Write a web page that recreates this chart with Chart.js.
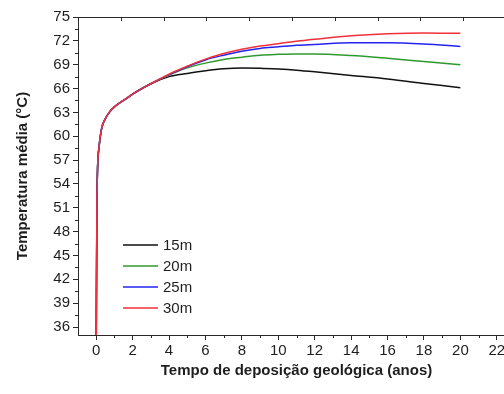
<!DOCTYPE html>
<html>
<head>
<meta charset="utf-8">
<script src="https://cdn.jsdelivr.net/npm/chart.js@4"></script>
<style>
  html, body { margin: 0; padding: 0; background: #fff; overflow: hidden; }
  #wrap { width: 504px; height: 394px; overflow: hidden; }
</style>
</head>
<body>
<div id="wrap"><canvas id="chart" width="530" height="394"></canvas></div>
<script>
// time (anos)
const times = [0, 0.04, 0.15, 0.3, 0.5, 0.75, 1, 1.5, 2, 3, 4, 5, 6, 7, 8, 9, 10, 11, 12, 14, 16, 18, 20];
// temperatura media (°C) per depth
const temp15 = [33, 52, 58.5, 61, 62.2, 63.1, 63.7, 64.5, 65.3, 66.6, 67.5, 67.9, 68.25, 68.5, 68.6, 68.56, 68.45, 68.3, 68.1, 67.65, 67.2, 66.65, 66.1];
const temp20 = [33, 52, 58.5, 61, 62.2, 63.1, 63.7, 64.5, 65.3, 66.6, 67.7, 68.6, 69.2, 69.65, 69.95, 70.2, 70.3, 70.35, 70.35, 70.15, 69.8, 69.4, 69.0];
const temp25 = [33, 52, 58.5, 61, 62.2, 63.1, 63.7, 64.5, 65.3, 66.6, 67.75, 68.75, 69.6, 70.2, 70.7, 71.05, 71.25, 71.45, 71.55, 71.75, 71.75, 71.6, 71.3];
const temp30 = [33, 52, 58.5, 61, 62.2, 63.1, 63.7, 64.5, 65.3, 66.6, 67.8, 68.8, 69.7, 70.4, 70.95, 71.35, 71.65, 71.95, 72.2, 72.65, 72.9, 73.0, 72.95];

const seriesLabels = ['15m', '20m', '25m', '30m'];
const seriesColors = ['#111111', '#2e9a2e', '#2323f0', '#f0303a'];

const xTicks = [0, 2, 4, 6, 8, 10, 12, 14, 16, 18, 20, 22];
const xMinorTicks = [1, 3, 5, 7, 9, 11, 13, 15, 17, 19, 21, 23];
const yTicks = [36, 39, 42, 45, 48, 51, 54, 57, 60, 63, 66, 69, 72, 75];
const yMinorTicks = [37.5, 40.5, 43.5, 46.5, 49.5, 52.5, 55.5, 58.5, 61.5, 64.5, 67.5, 70.5, 73.5];
const topTicks = [1, 2, 3, 4, 5, 6, 7, 8, 9, 10];

const axisColor = '#2a2a2a';
const textColor = '#1e1e1e';
const fontFamily = '"Liberation Sans", Arial, sans-serif';

function pts(ys) {
    return times.map((t, i) => ({ x: t, y: ys[i] }));
}

const allSeries = [temp15, temp20, temp25, temp30];
const datasets = allSeries.map((ys, i) => ({
    label: seriesLabels[i],
    data: pts(ys),
    borderColor: seriesColors[i],
    borderWidth: 1.5,
    pointRadius: 0,
    showLine: true,
    cubicInterpolationMode: 'monotone',
    order: 3 - i
}));

// minor ticks, top ticks and the legend box inside the plot
const extras = {
    id: 'extras',
    afterDraw(chart) {
        const ctx = chart.ctx;
        const area = chart.chartArea;
        const xs = chart.scales.x, ys = chart.scales.y, top = chart.scales.xTop;
        ctx.save();
        ctx.strokeStyle = axisColor;
        ctx.lineWidth = 1;
        ctx.beginPath();
        xMinorTicks.forEach(v => {
            const px = Math.round(xs.getPixelForValue(v)) + 0.5;
            ctx.moveTo(px, area.bottom);
            ctx.lineTo(px, area.bottom + 3);
        });
        yMinorTicks.forEach(v => {
            const py = Math.round(ys.getPixelForValue(v)) + 0.5;
            ctx.moveTo(area.left, py);
            ctx.lineTo(area.left - 3, py);
        });
        topTicks.forEach(v => {
            const px = Math.round(top.getPixelForValue(v)) + 0.5;
            ctx.moveTo(px, area.top);
            ctx.lineTo(px, area.top + 4);
        });
        ctx.stroke();

        // legend
        const lx = area.left + 45;
        const ly = area.top + 228;
        ctx.font = '15px ' + fontFamily;
        ctx.textBaseline = 'middle';
        ctx.fillStyle = textColor;
        seriesLabels.forEach((lab, i) => {
            const y = ly + i * 21;
            ctx.strokeStyle = seriesColors[i];
            ctx.lineWidth = 1.5;
            ctx.beginPath();
            ctx.moveTo(lx, y);
            ctx.lineTo(lx + 35, y);
            ctx.stroke();
            ctx.fillText(lab, lx + 40, y + 1);
        });
        ctx.restore();
    }
};

new Chart(document.getElementById('chart'), {
    type: 'scatter',
    data: { datasets: datasets },
    options: {
        responsive: false,
        animation: false,
        layout: { padding: { top: 17, right: 15, left: 0, bottom: 0 } },
        plugins: {
            legend: { display: false },
            tooltip: { enabled: false }
        },
        scales: {
            x: {
                type: 'linear',
                position: 'bottom',
                min: -1,
                max: 23,
                afterBuildTicks: s => { s.ticks = xTicks.map(v => ({ value: v })); },
                afterFit: s => { s.height = 59; },
                grid: { drawOnChartArea: false, drawTicks: true, tickLength: 5, tickColor: axisColor },
                border: { color: axisColor, width: 1 },
                ticks: { color: textColor, font: { family: fontFamily, size: 15 }, padding: 2, maxRotation: 0, autoSkip: false },
                title: {
                    display: true,
                    text: 'Tempo de deposição geológica (anos)',
                    color: textColor,
                    font: { family: fontFamily, size: 15, weight: 'bold' },
                    padding: { top: 6, bottom: 14 }
                }
            },
            xTop: {
                type: 'linear',
                position: 'top',
                min: 0,
                max: 10.21,
                afterFit: s => { s.height = 0; },
                grid: { drawOnChartArea: false, drawTicks: false },
                border: { color: axisColor, width: 1 },
                ticks: { display: false }
            },
            y: {
                type: 'linear',
                min: 35,
                max: 75,
                afterBuildTicks: s => { s.ticks = yTicks.map(v => ({ value: v })); },
                afterFit: s => { s.width = 78; },
                grid: { drawOnChartArea: false, drawTicks: true, tickLength: 5, tickColor: axisColor },
                border: { color: axisColor, width: 1 },
                ticks: { color: textColor, font: { family: fontFamily, size: 15 }, padding: 3, autoSkip: false },
                title: {
                    display: true,
                    text: 'Temperatura média (°C)',
                    color: textColor,
                    font: { family: fontFamily, size: 15, weight: 'bold' },
                    padding: { top: 14, bottom: 0 }
                }
            }
        }
    },
    plugins: [extras]
});
</script>
</body>
</html>
